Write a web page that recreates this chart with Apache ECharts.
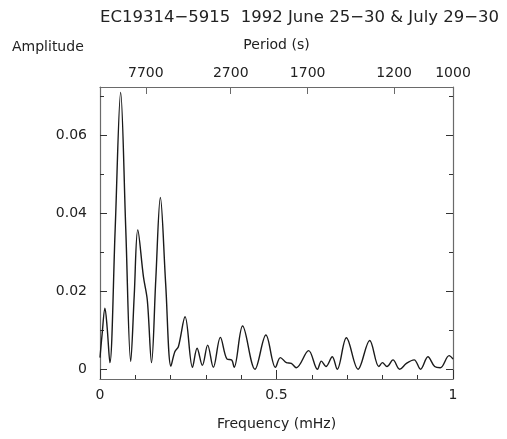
<!DOCTYPE html>
<html>
<head>
<meta charset="utf-8">
<script src="https://cdn.jsdelivr.net/npm/echarts@6/dist/echarts.min.js"></script>
<style>
  html, body { margin: 0; padding: 0; background: #fff; }
  #chart { width: 507px; height: 439px; }
</style>
</head>
<body>
<div id="chart"></div>
<script>
// amplitude spectrum
const freq = [
  0.000, 0.006, 0.014, 0.020, 0.028, 0.043, 0.0585, 0.073, 0.087, 0.097,
  0.107, 0.123, 0.134, 0.146, 0.158, 0.171, 0.186, 0.201, 0.212, 0.222,
  0.241, 0.262, 0.275, 0.290, 0.305, 0.321, 0.341, 0.360, 0.373, 0.380,
  0.404, 0.439, 0.470, 0.497, 0.511, 0.528, 0.542, 0.556, 0.591, 0.616,
  0.627, 0.640, 0.658, 0.672, 0.698, 0.731, 0.764, 0.790, 0.800, 0.813,
  0.830, 0.849, 0.868, 0.890, 0.908, 0.929, 0.948, 0.964, 0.989, 1.000
]
const amp = [
  0.0030, 0.0090, 0.0157, 0.0110, 0.0017, 0.0360, 0.0711, 0.0360, 0.0020, 0.0190,
  0.0358, 0.0238, 0.0178, 0.0017, 0.0230, 0.0441, 0.0220, 0.0008, 0.0045, 0.0058,
  0.0135, 0.0005, 0.0054, 0.0010, 0.0062, 0.0005, 0.0082, 0.0026, 0.0024, 0.0005,
  0.0111, 0.0000, 0.0088, 0.0005, 0.0030, 0.0017, 0.0015, 0.0004, 0.0048, 0.0000,
  0.0021, 0.0007, 0.0032, 0.0000, 0.0081, 0.0000, 0.0074, 0.0007, 0.0017, 0.0007,
  0.0024, 0.0000, 0.0015, 0.0024, 0.0000, 0.0032, 0.0007, 0.0004, 0.0035, 0.0026
]
const ampMajor = [0, 0.02, 0.04, 0.06]
const ampMinor = [0.01, 0.03, 0.05, 0.07]
const periods = [7700, 2700, 1700, 1200, 1000]

const FONT = 'DejaVu Sans'
const AXIS = '#6a6a6a'
const TEXT = '#222'
const yMin = -0.0025
const yMax = 0.0725

const chartDom = document.getElementById('chart')
const chart = echarts.init(chartDom, null, { renderer: 'canvas' })

function yAxisDef(position, ticks, len, withLabels, withLine) {
  return {
    type: 'value',
    position,
    min: yMin,
    max: yMax,
    axisLine: { show: withLine, onZero: false, lineStyle: { color: AXIS, width: 1.2 } },
    axisTick: { show: true, inside: true, length: len, customValues: ticks, lineStyle: { color: '#333', width: 1 } },
    axisLabel: {
      show: withLabels,
      customValues: ampMajor,
      margin: 13,
      color: TEXT,
      fontFamily: FONT,
      fontSize: 14,
    },
    splitLine: { show: false },
  }
}

const option = {
  animation: false,
  backgroundColor: '#fff',
  title: [
    {
      text: 'EC19314\u22125915  1992 June 25\u221230 & July 29\u221230',
      left: 100,
      top: 9,
      padding: 0,
      textStyle: { color: TEXT, fontFamily: FONT, fontSize: 16.5, fontWeight: 'normal' },
    },
    {
      text: 'Amplitude',
      left: 12,
      top: 40,
      padding: 0,
      textStyle: { color: TEXT, fontFamily: FONT, fontSize: 14, fontWeight: 'normal' },
    },
  ],
  grid: { left: 100, right: 54, top: 87, bottom: 60 },
  xAxis: [
    {
      // bottom, long ticks + labels
      type: 'value',
      position: 'bottom',
      min: 0,
      max: 1,
      interval: 0.5,
      name: 'Frequency (mHz)',
      nameLocation: 'middle',
      nameGap: 38,
      nameTextStyle: { color: TEXT, fontFamily: FONT, fontSize: 14 },
      axisLine: { show: true, onZero: false, lineStyle: { color: AXIS, width: 1.2 } },
      axisTick: { show: true, inside: true, length: 9, lineStyle: { color: '#333' } },
      axisLabel: { margin: 9, color: TEXT, fontFamily: FONT, fontSize: 14 },
      splitLine: { show: false },
    },
    {
      // bottom, short ticks
      type: 'value',
      position: 'bottom',
      min: 0,
      max: 1,
      interval: 0.1,
      axisLine: { show: false, onZero: false },
      axisTick: { show: true, inside: true, length: 4, lineStyle: { color: '#333' } },
      axisLabel: { show: false },
      splitLine: { show: false },
    },
    {
      // top, period scale
      type: 'value',
      position: 'top',
      min: 0,
      max: 1,
      name: 'Period (s)',
      nameLocation: 'middle',
      nameGap: 35,
      nameTextStyle: { color: TEXT, fontFamily: FONT, fontSize: 14 },
      axisLine: { show: true, onZero: false, lineStyle: { color: AXIS, width: 1.2 } },
      axisTick: {
        show: true,
        inside: true,
        length: 7,
        customValues: periods.map(p => 1000 / p),
        lineStyle: { color: AXIS },
      },
      axisLabel: {
        customValues: periods.map(p => 1000 / p),
        formatter: v => String(Math.round(1000 / v)),
        margin: 7,
        color: TEXT,
        fontFamily: FONT,
        fontSize: 14,
      },
      splitLine: { show: false },
    },
  ],
  yAxis: [
    yAxisDef('left', ampMajor, 7, true, true),
    yAxisDef('left', ampMinor, 4, false, false),
    yAxisDef('right', ampMajor, 7, false, true),
    yAxisDef('right', ampMinor, 4, false, false),
  ],
  series: [
    {
      type: 'line',
      xAxisIndex: 0,
      yAxisIndex: 0,
      data: freq.map((f, i) => [f, amp[i]]),
      smooth: 0.35,
      showSymbol: false,
      lineStyle: { color: '#1a1a1a', width: 1.4 },
    },
  ],
}

chart.setOption(option)
</script>
</body>
</html>
